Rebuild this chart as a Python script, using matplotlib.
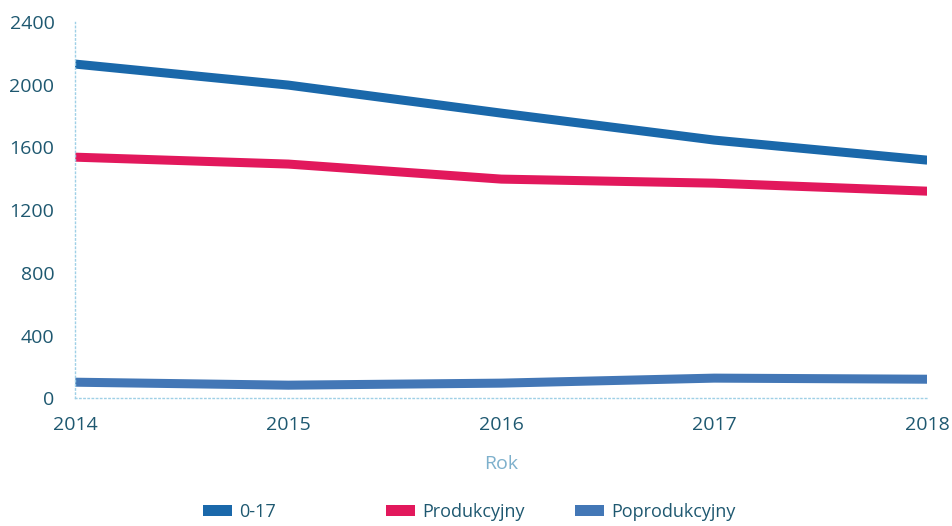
import matplotlib
matplotlib.use("Agg")
import matplotlib.pyplot as plt
from matplotlib.patches import Patch

years = [2014, 2015, 2016, 2017, 2018]
s_017 = [2132, 1998, 1819, 1647, 1519]
s_prod = [1538, 1494, 1398, 1372, 1321]
s_poprod = [102, 83, 96, 128, 121]
labels = ["0-17", "Produkcyjny", "Poprodukcyjny"]
colors = ["#1a68aa", "#e2185c", "#4377b6"]
yticks = [0, 400, 800, 1200, 1600, 2000, 2400]

plt.rcParams['font.family'] = ['Open Sans', 'DejaVu Sans']
txt = "#1e5870"

fig = plt.figure(figsize=(9.53, 5.26), dpi=100)
ax = fig.add_axes([0.079, 0.243, 0.894, 0.715])
for vals, c in zip([s_017, s_prod, s_poprod], colors):
    ax.plot(years, vals, color=c, lw=6.5, solid_capstyle='butt')

ax.set_xlim(2014, 2018)
ax.set_ylim(0, 2400)
ax.set_yticks(yticks)
ax.set_xticks(years)
ax.tick_params(axis='both', length=0, labelsize=14, labelcolor=txt)
ax.tick_params(axis='x', pad=13)
ax.tick_params(axis='y', pad=15)
for s in ['top', 'right']:
    ax.spines[s].set_visible(False)
for s in ['left', 'bottom']:
    ax.spines[s].set_linestyle((0, (1, 2)))
    ax.spines[s].set_color("#9fd0e6")
    ax.spines[s].set_linewidth(1)
ax.set_xlabel("Rok", fontsize=14, color="#7db0cc", labelpad=15)

xpos = [0.213, 0.405, 0.603]
for lab, c, x in zip(labels, colors, xpos):
    fig.legend(handles=[Patch(facecolor=c, edgecolor='none')], labels=[lab],
               loc='center left', bbox_to_anchor=(x, 0.027), frameon=False,
               fontsize=13, handlelength=1.6, handleheight=0.55, handletextpad=0.4,
               labelcolor=txt, borderaxespad=0, borderpad=0)

fig.savefig("out.png", dpi=100)
